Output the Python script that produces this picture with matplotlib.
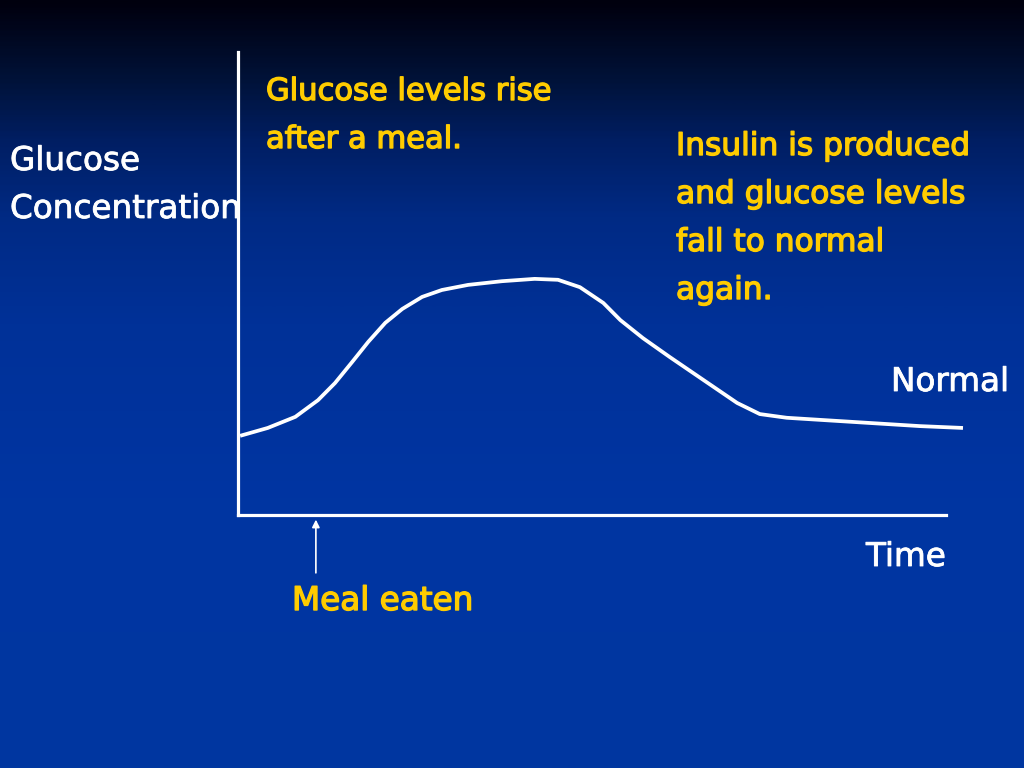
import numpy as np
import matplotlib
matplotlib.use('Agg')
import matplotlib.pyplot as plt
import matplotlib.patheffects as pe
from matplotlib.colors import LinearSegmentedColormap

# ==================== data ====================
# time (arbitrary units) vs glucose concentration (arbitrary units)
time = [0.03, 0.42, 0.81, 1.13, 1.37, 1.61, 1.84, 2.08, 2.32, 2.60, 2.88, 3.25,
        3.73, 4.19, 4.52, 4.83, 5.16, 5.40, 5.72, 6.10, 6.57, 7.05, 7.37, 7.75,
        8.69, 9.63, 10.24]
glucose = [1.71, 1.88, 2.12, 2.48, 2.85, 3.30, 3.74, 4.15, 4.45, 4.71, 4.86, 4.97,
           5.05, 5.10, 5.08, 4.92, 4.58, 4.21, 3.82, 3.41, 2.92, 2.42, 2.18, 2.10,
           2.01, 1.92, 1.88]
meal_time = 1.10

rise_lines = ["Glucose levels rise", "after a meal."]
fall_lines = ["Insulin is produced", "and glucose levels", "fall to normal", "again."]
ylabel_lines = ["Glucose", "Concentration"]
normal_text = "Normal"
xlabel_text = "Time"
meal_text = "Meal eaten"

YELLOW = '#FFCC00'
W, H = 1024, 768
LINE_STEP = 48

plt.rcParams['font.family'] = ['DejaVu Sans']

fig = plt.figure(figsize=(W / 100, H / 100), dpi=100)

# background gradient
bg = fig.add_axes([0, 0, 1, 1], zorder=0)
cmap = LinearSegmentedColormap.from_list('bg', [
    (0.0, '#00000e'), (0.025, '#000418'), (0.10, '#001238'), (0.18, '#001e62'),
    (0.28, '#002a84'), (0.42, '#003198'), (0.65, '#0035a2'), (1.0, '#0037a0')])
grad = np.linspace(0, 1, 400).reshape(-1, 1)
bg.imshow(grad, aspect='auto', cmap=cmap, extent=[0, 1, 0, 1], origin='upper')
bg.axis('off')

# chart axes (pixel box: left 238, right 946, top 52, bottom 515)
ax = fig.add_axes([238 / W, 1 - 515 / H, (946 - 238) / W, (515 - 52) / H], zorder=2)
ax.patch.set_alpha(0)
ax.set_xlim(0, 10)
ax.set_ylim(0, 10)
for s in ['top', 'right']:
    ax.spines[s].set_visible(False)
for s in ['left', 'bottom']:
    ax.spines[s].set_color('white')
    ax.spines[s].set_linewidth(2.3)
    ax.spines[s].set_capstyle('projecting')
ax.set_xticks([])
ax.set_yticks([])
ax.plot(time, glucose, color='white', lw=2.7, clip_on=False,
        solid_capstyle='butt', solid_joinstyle='round')

# meal arrow
ax.annotate('', xy=(meal_time, -0.1), xytext=(meal_time, -1.25),
            xycoords='data', annotation_clip=False,
            arrowprops=dict(arrowstyle='-|>', color='white', lw=1.2,
                            mutation_scale=11, shrinkA=0, shrinkB=0))


def px(x, y):
    return x / W, 1 - y / H


def block(x, y0, lines, color, size, stroke):
    for i, line in enumerate(lines):
        fig.text(*px(x, y0 + i * LINE_STEP), line, color=color, fontsize=size,
                 va='baseline', ha='left', zorder=1,
                 path_effects=[pe.withStroke(linewidth=stroke, foreground=color)])


block(266, 100, rise_lines, YELLOW, 22, 1.0)
block(676, 155, fall_lines, YELLOW, 22.5, 1.0)
block(10, 170, ylabel_lines, 'white', 23.5, 0.6)
block(891, 391, [normal_text], 'white', 23.5, 0.6)
block(866, 566, [xlabel_text], 'white', 23.5, 0.6)
block(292, 610, [meal_text], YELLOW, 23.5, 1.0)

fig.savefig('out.png', dpi=100)
